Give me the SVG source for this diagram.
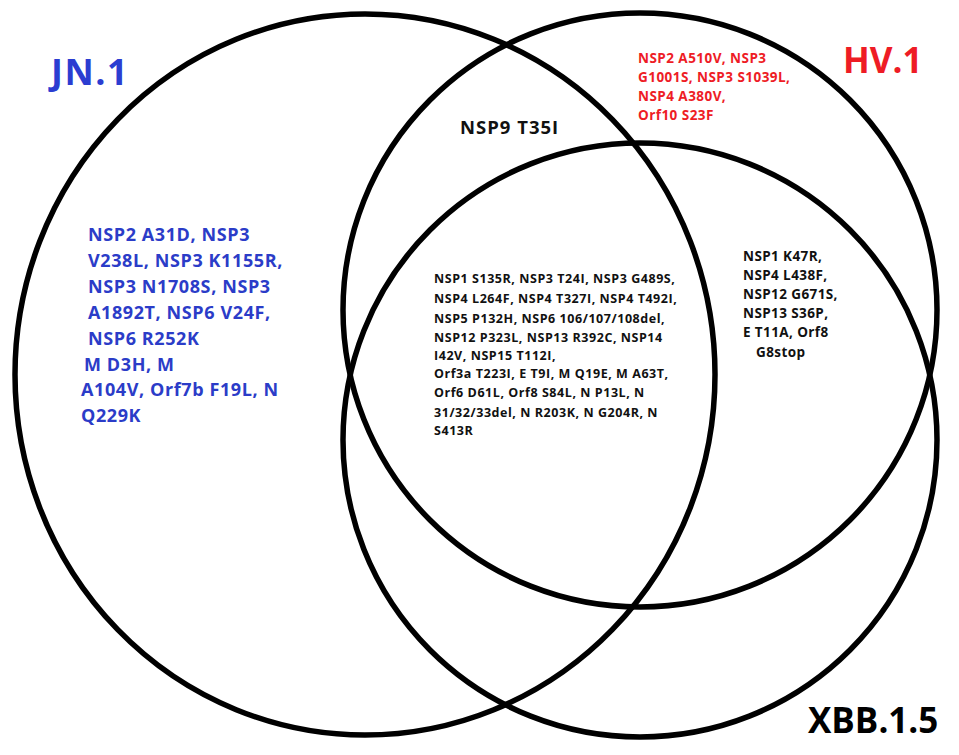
<svg xmlns="http://www.w3.org/2000/svg" width="959" height="755" viewBox="0 0 959 755">
<style>
.c{fill:none;stroke:#000;stroke-width:5.5}
text{font-family:"Open Sans","Noto Sans","DejaVu Sans",sans-serif;font-weight:700}
.blue{fill:#2b3cc8;font-size:18px;letter-spacing:0.6px}
.red{fill:#ee1c25;font-size:13.5px;letter-spacing:0.45px}
.blk{fill:#111;font-size:12.5px;letter-spacing:0.55px}
.rt{fill:#111;font-size:13.5px;letter-spacing:0.4px}
.title{font-size:35px}
</style>
<rect width="959" height="755" fill="#fff"/>
<g id="connectors"></g>
<g id="jn1">
<ellipse class="c" cx="365" cy="374.5" rx="350" ry="360.5"/>
<text class="title" x="51" y="85" fill="#2b3dd1" style="font-size:36px;letter-spacing:1.5px">JN.1</text>
</g>
<g id="hv1">
<circle class="c" cx="640" cy="310" r="297"/>
<text class="title" x="843" y="73" fill="#ee1c25">HV.1</text>
</g>
<g id="xbb">
<circle class="c" cx="640" cy="440" r="297"/>
<text class="title" x="808" y="733" fill="#000">XBB.1.5</text>
</g>
<g id="jn1-only">
<text class="blue" x="88" y="241">NSP2 A31D, NSP3</text>
<text class="blue" x="88" y="267">V238L, NSP3 K1155R,</text>
<text class="blue" x="88" y="293">NSP3 N1708S, NSP3</text>
<text class="blue" x="88" y="319">A1892T, NSP6 V24F,</text>
<text class="blue" x="88" y="345">NSP6 R252K</text>
<text class="blue" x="84" y="371">M D3H, M</text>
<text class="blue" x="81" y="396">A104V, Orf7b F19L, N</text>
<text class="blue" x="81" y="422">Q229K</text>
</g>
<g id="hv1-only">
<text class="red" x="638" y="63">NSP2 A510V, NSP3</text>
<text class="red" x="638" y="82">G1001S, NSP3 S1039L,</text>
<text class="red" x="638" y="101">NSP4 A380V,</text>
<text class="red" x="638" y="120">Orf10 S23F</text>
</g>
<g id="jn1-hv1">
<text x="460" y="134" fill="#111" style="font-size:18.5px;letter-spacing:1px">NSP9 T35I</text>
</g>
<g id="hv1-xbb">
<text class="rt" x="743" y="261">NSP1 K47R,</text>
<text class="rt" x="743" y="280">NSP4 L438F,</text>
<text class="rt" x="743" y="299">NSP12 G671S,</text>
<text class="rt" x="743" y="318">NSP13 S36P,</text>
<text class="rt" x="743" y="337">E T11A, Orf8</text>
<text class="rt" x="756" y="357">G8stop</text>
</g>
<g id="all-three">
<text class="blk" x="434" y="283">NSP1 S135R, NSP3 T24I, NSP3 G489S,</text>
<text class="blk" x="434" y="303">NSP4 L264F, NSP4 T327I, NSP4 T492I,</text>
<text class="blk" x="434" y="323">NSP5 P132H, NSP6 106/107/108del,</text>
<text class="blk" x="434" y="342">NSP12 P323L, NSP13 R392C, NSP14</text>
<text class="blk" x="434" y="360">I42V, NSP15 T112I,</text>
<text class="blk" x="434" y="378">Orf3a T223I, E T9I, M Q19E, M A63T,</text>
<text class="blk" x="434" y="397">Orf6 D61L, Orf8 S84L, N P13L, N</text>
<text class="blk" x="434" y="417">31/32/33del, N R203K, N G204R, N</text>
<text class="blk" x="434" y="435">S413R</text>
</g>
</svg>
